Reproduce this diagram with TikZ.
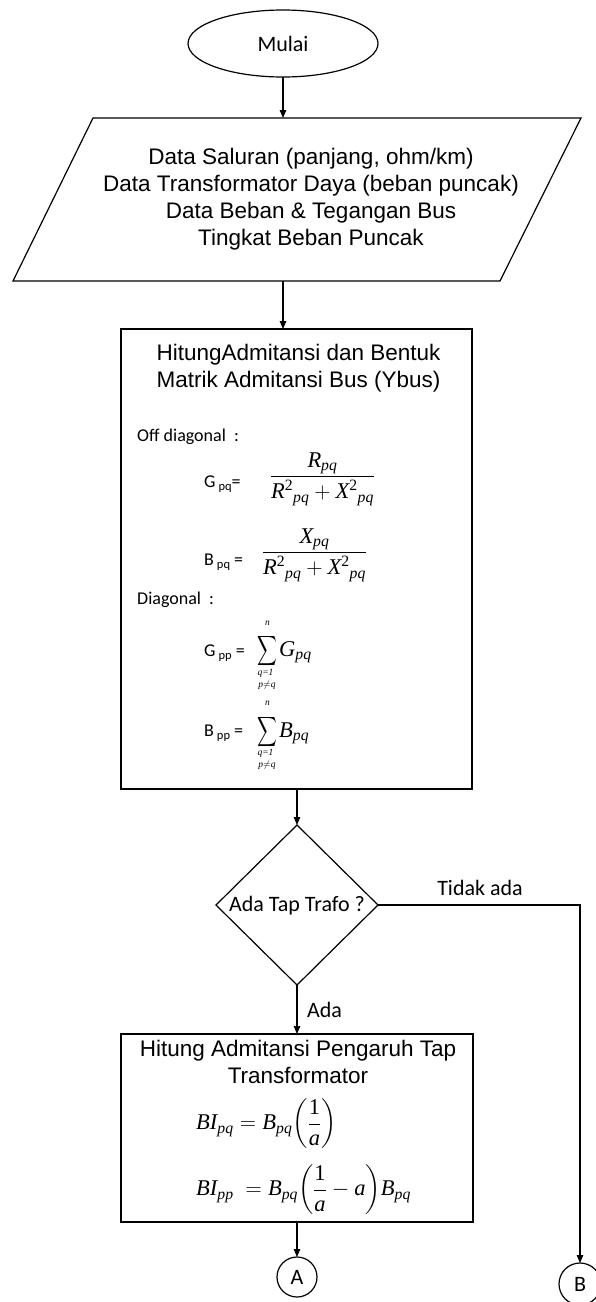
\RequirePackage{fix-cm}
\documentclass[tikz,border=0pt]{standalone}
\usepackage{amsmath}
\usepackage{fontspec}
\newfontfamily\arial{Liberation Sans}
\newfontfamily\calib{Carlito}
\newfontfamily\tnr{Liberation Serif}
\usetikzlibrary{shapes.geometric,arrows.meta}

% italic variable in the serif text face
\newcommand{\vi}[1]{\textit{#1}}
% small Calibri-style label such as "G pq="
\newcommand{\lbl}[3]{#1\,\raisebox{-3pt}{\fontsize{12.5}{12.5}\selectfont #2}#3}

\tikzset{
  line/.style={line width=1.2pt},
  arr/.style={line, -{Triangle[length=8pt,width=6.5pt]}},
  box/.style={draw, line, inner sep=0pt, outer sep=0pt},
  titletext/.style={font=\arial\fontsize{22.5}{27}\selectfont, align=center, inner sep=0pt},
  caltext/.style={font=\calib\fontsize{22}{26}\selectfont, inner sep=0pt},
  smalltext/.style={font=\calib\fontsize{18}{22}\selectfont, inner sep=0pt, anchor=west},
  mathtext/.style={font=\tnr\fontsize{22.5}{27}\selectfont, inner sep=0pt},
  limtext/.style={font=\tnr\itshape\fontsize{9.5}{9.5}\selectfont, inner sep=0pt},
}

\begin{document}
\begin{tikzpicture}[x=1pt,y=-1pt]
\useasboundingbox (0,0) rectangle (595,1302);

% start terminal
\node[box, ellipse, minimum width=190pt, minimum height=67pt, caltext] (mulai) at (283,43.5) {Mulai};

% input data (parallelogram)
\coordinate (pTL) at (93,118);
\coordinate (pTR) at (581,118);
\coordinate (pBR) at (500,281);
\coordinate (pBL) at (13,281);
\draw[line] (pTL) -- (pTR) -- (pBR) -- (pBL) -- cycle;
\coordinate (pin) at (283,118);
\coordinate (pout) at (283,281);
\node[titletext] (datatext) at (311,199.5) {Data Saluran (panjang, ohm/km)\\Data Transformator Daya (beban puncak)\\Data Beban \& Tegangan Bus\\Tingkat Beban Puncak};

% admittance matrix process
\node[box, minimum width=351pt, minimum height=460pt] (hitung) at (296.5,559) {};
\node[titletext] (hitungtitle) at (298.5,368.5) {HitungAdmitansi dan Bentuk\\Matrik Admitansi Bus (Ybus)};

\node[smalltext] (offdiag) at (137,437) {Off diagonal\ \ :};
\node[smalltext] (glbl) at (204,484) {\lbl{G}{pq}{=}};
\node[mathtext] (gfrac) at (322.5,479) {$\dfrac{\vi{R}_{\vi{pq}}}{\vi{R}^{\text{2}}{}_{\vi{pq}}+\vi{X}^{\text{2}}{}_{\vi{pq}}}$};

\node[smalltext] (blbl) at (204,562) {\lbl{B}{pq}{ =}};
\node[mathtext] (bfrac) at (314.5,555) {$\dfrac{\vi{X}_{\vi{pq}}}{\vi{R}^{\text{2}}{}_{\vi{pq}}+\vi{X}^{\text{2}}{}_{\vi{pq}}}$};

\node[smalltext] (diag) at (137,600) {Diagonal\ \ :};

\node[smalltext] (gplbl) at (204,653) {\lbl{G}{pp}{ =}};
\node[inner sep=0pt] (gsum) at (267.5,651) {\scalebox{0.66}[1]{\fontsize{22.5}{27}\selectfont$\displaystyle\sum$}};
\node[limtext] (gsumn) at (267.5,623) {n};
\node[limtext] (gsumq) at (265.5,673) {q=1};
\node[limtext] (gsump) at (267,685) {p\raisebox{0pt}{\upshape$\neq$}q};
\node[mathtext, anchor=west] (gsumterm) at (279,652) {$\vi{G}_{\vi{pq}}$};

\node[smalltext] (bplbl) at (204,733) {\lbl{B}{pp}{ =}};
\node[inner sep=0pt] (bsum) at (267.5,732) {\scalebox{0.66}[1]{\fontsize{22.5}{27}\selectfont$\displaystyle\sum$}};
\node[limtext] (bsumn) at (267.5,703) {n};
\node[limtext] (bsumq) at (265.5,753) {q=1};
\node[limtext] (bsump) at (267,765) {p\raisebox{0pt}{\upshape$\neq$}q};
\node[mathtext, anchor=west] (bsumterm) at (279,733) {$\vi{B}_{\vi{pq}}$};

% decision
\node[box, diamond, minimum width=162pt, minimum height=160pt] (dec) at (297,905) {};
\node[caltext] (dectext) at (297,906) {Ada Tap Trafo ?};

% tap transformer process
\node[box, minimum width=352pt, minimum height=188pt] (tap) at (297,1128) {};
\node[titletext] (taptitle) at (298,1062) {Hitung Admitansi Pengaruh Tap\\Transformator};
\node[mathtext, anchor=west] (tapeq1) at (196,1124) {$\vi{BI}_{\vi{pq}} = \vi{B}_{\vi{pq}}{\left(\dfrac{\text{1}}{\vi{a}}\right)}$};
\node[mathtext, anchor=west] (tapeq2) at (196,1190) {$\vi{BI}_{\vi{pp}}\ = \vi{B}_{\vi{pq}}{\left(\dfrac{\text{1}}{\vi{a}}-\vi{a}\right)}\vi{B}_{\vi{pq}}$};

% connectors
\node[box, circle, minimum size=40pt, caltext] (conA) at (297,1277) {A};
\node[box, circle, minimum size=42pt, caltext] (conB) at (580,1284) {B};

\draw[arr] (mulai.south) -- (pin);
\draw[arr] (pout) -- (pout |- hitung.north);
\draw[arr] (dec.north |- hitung.south) -- (dec.north);
\draw[arr] (dec.south) -- (tap.north);
\draw[arr] (tap.south) -- (conA.north);
\draw[arr] (dec.east) -| (conB.north);

\node[caltext] (tidak) at (480,888) {Tidak ada};
\node[caltext, anchor=west] (ada) at (307,1010) {Ada};
\end{tikzpicture}
\end{document}
